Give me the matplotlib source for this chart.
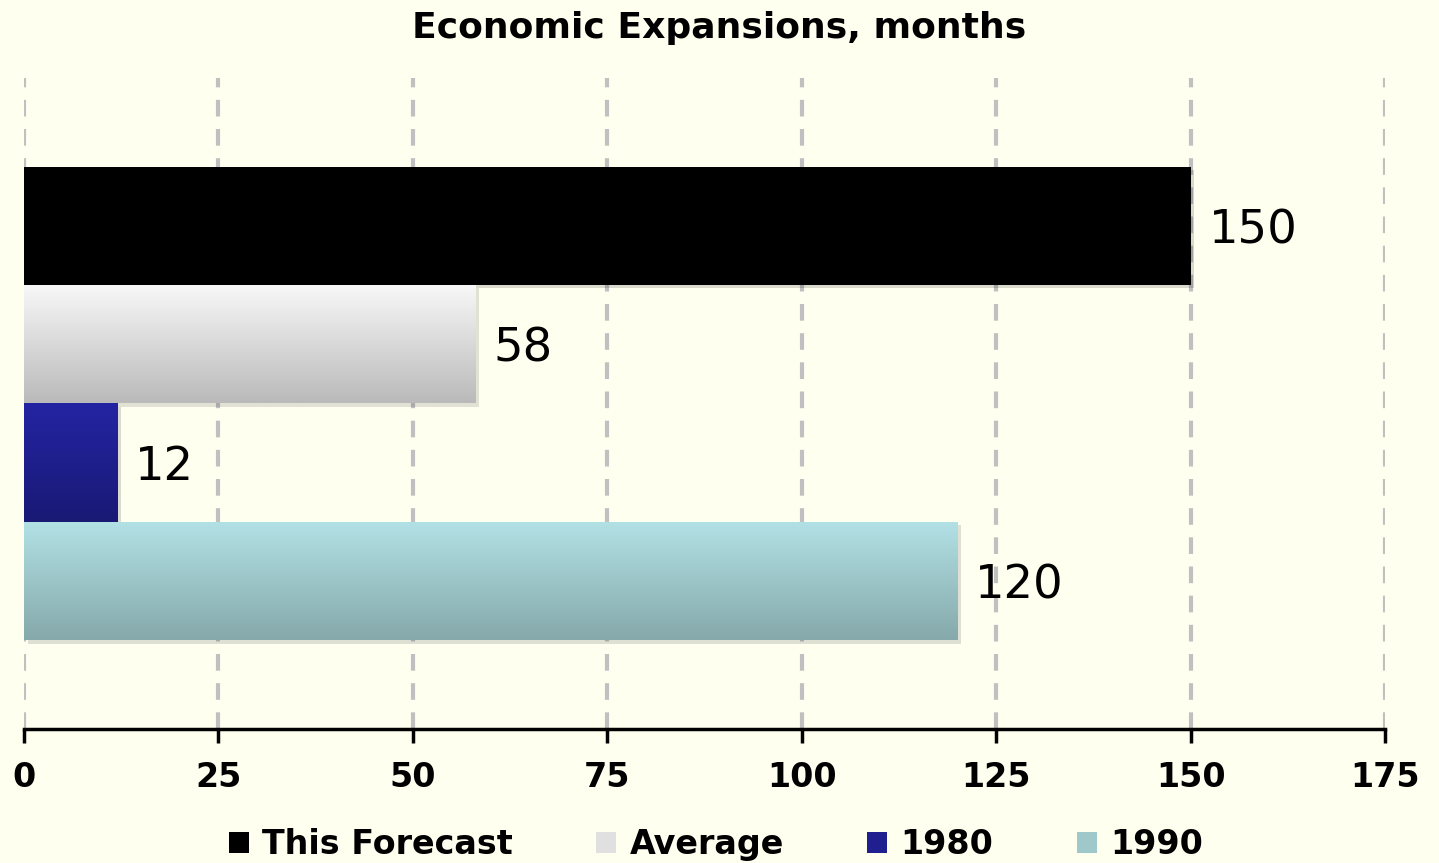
# Economic expansions bar chart
import numpy as np
import matplotlib.pyplot as plt
import matplotlib.patheffects as pe
from matplotlib.patches import Patch

# data
series = ['This Forecast', 'Average', '1980', '1990']
months = [150, 58, 12, 120]
ticks = [0, 25, 50, 75, 100, 125, 150, 175]

# colours: (top, bottom) of each bar gradient
grad_top = ['#000000', '#f8f8f8', '#2424a3', '#b2e1e5']
grad_bot = ['#000000', '#bababa', '#191975', '#86a9ab']

bg = '#fffff0'
plt.rcParams['font.family'] = ['DejaVu Sans']

fig = plt.figure(figsize=(14.39, 8.63), dpi=100, facecolor=bg)
ax = fig.add_axes([0.0167, 0.1553, 0.9458, 0.7543], facecolor=bg)

h = 0.182
pos = (np.arange(len(series))[::-1] - (len(series) - 1) / 2) * h

shadow = [pe.SimplePatchShadow(offset=(2.5, -2.5), alpha=0.15), pe.Normal()]
bars = ax.barh(pos, months, height=h, color=grad_bot, zorder=3)
for b, c0, c1 in zip(bars, grad_top, grad_bot):
    b.set_path_effects(shadow)
    t = np.linspace(0, 1, 64)[:, None]
    rgb0 = np.array(plt.matplotlib.colors.to_rgb(c0))
    rgb1 = np.array(plt.matplotlib.colors.to_rgb(c1))
    img = (rgb0 * (1 - t) + rgb1 * t)[:, None, :].repeat(2, axis=1)
    x0, y0 = b.get_x(), b.get_y()
    im = ax.imshow(img, extent=(x0, x0 + b.get_width(), y0, y0 + b.get_height()),
                   aspect='auto', zorder=3.5, origin='upper', interpolation='bilinear')
    im.set_clip_path(b)

lbls = ax.bar_label(bars, labels=[str(v) for v in months], padding=13, fontsize=33.5, zorder=5)
for l in lbls:
    l.set_verticalalignment('center_baseline')

ax.set_xlim(0, 175)
ax.set_ylim(-0.5, 0.5)
ax.set_xticks(ticks)
ax.set_xticklabels([str(t) for t in ticks], fontsize=24, fontweight='bold')
ax.tick_params(axis='x', length=10, width=2.5, pad=13, color='black')
ax.set_yticks([])
ax.grid(axis='x', color='#c0c0c0', linestyle=(0, (4, 3)), linewidth=3, zorder=1)
for s in ['top', 'right', 'left']:
    ax.spines[s].set_visible(False)
ax.spines['bottom'].set_linewidth(2.5)
ax.spines['bottom'].set_zorder(6)

fig.suptitle('Economic Expansions, months', y=0.987, fontsize=26, fontweight='bold')

handles = [Patch(facecolor=c, edgecolor='none') for c in ['#000000', '#e0e0e0', '#1f1f90', '#9fc8cb']]
fig.legend(handles, series, loc='center', bbox_to_anchor=(0.4975, 0.021), ncol=4, frameon=False,
           prop={'size': 24, 'weight': 'bold'}, handlelength=0.6, handleheight=0.6,
           handletextpad=0.4, columnspacing=2.5)

plt.savefig('out.png', dpi=100, facecolor=bg)
